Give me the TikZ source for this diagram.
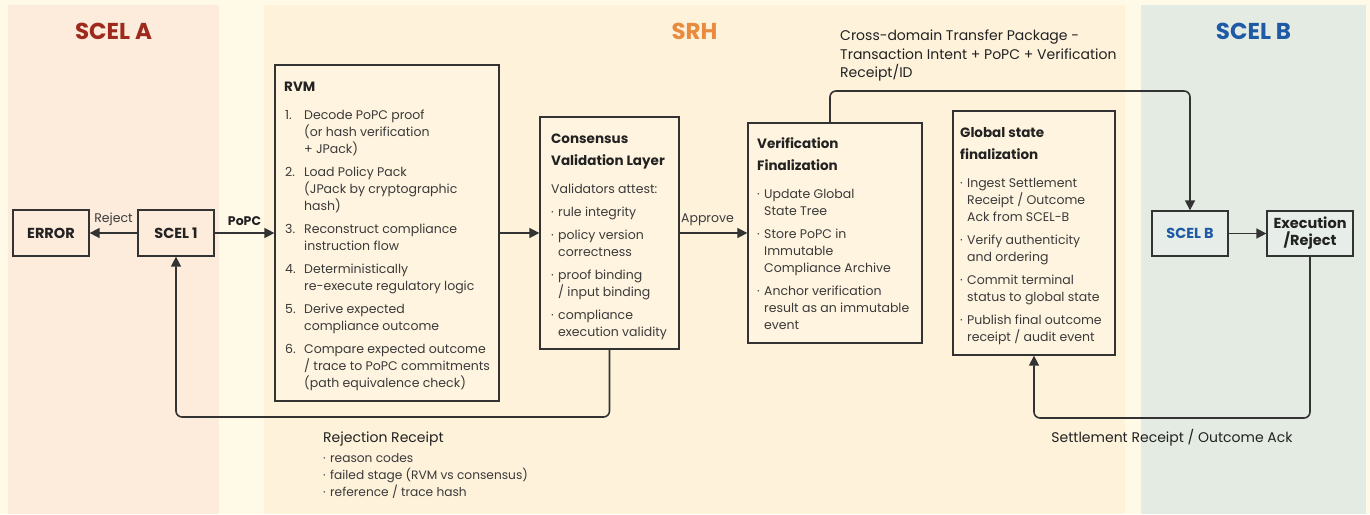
\documentclass[tikz,border=0pt]{standalone}
\usepackage{fontspec}
\setmainfont{Poppins}
\usetikzlibrary{arrows.meta, positioning, calc}
\definecolor{pagecream}{HTML}{FFF9E8}
\definecolor{scelapanel}{HTML}{FDEBDC}
\definecolor{srhpanel}{HTML}{FEF2DB}
\definecolor{scelbpanel}{HTML}{E4EBE3}
\definecolor{srhbox}{HTML}{FFF4DF}
\definecolor{scelbbox}{HTML}{E7EEE9}
\definecolor{scelared}{HTML}{9E2A1E}
\definecolor{srhorange}{HTML}{E98B3F}
\definecolor{scelbblue}{HTML}{1E5AA6}
\definecolor{linegray}{HTML}{333333}
\definecolor{bodygray}{HTML}{3A3A3A}
\definecolor{headgray}{HTML}{222222}

\begin{document}
\begin{tikzpicture}[x=1pt, y=-1pt,
    stage/.style={draw=linegray, line width=1.3pt, fill=srhbox, inner sep=0pt},
    flow/.style={draw=linegray, line width=1.6pt,
      -{Triangle[length=10pt, width=10pt]}, rounded corners=6pt},
    bodytext/.style={font=\fontsize{12.5}{17}\selectfont, text=bodygray,
      anchor=base west, inner sep=0pt},
    headtext/.style={font=\fontsize{13.5}{22}\selectfont\bfseries, text=headgray,
      anchor=base west, inner sep=0pt, align=left},
    domaintitle/.style={font=\fontsize{23}{26}\selectfont\bfseries},
    boxlabel/.style={font=\fontsize{14.5}{17}\selectfont\bfseries, text=headgray,
      align=center},
    edgelabel/.style={font=\fontsize{12.5}{15}\selectfont, text=bodygray, above=3pt}
  ]
    \useasboundingbox (0,0) rectangle (1370,514);
    % Domain panels
    \fill[pagecream] (0,0) rectangle (1370,514);
    \fill[scelapanel] (8,5) rectangle (219,514);
    \fill[srhpanel] (264,5) rectangle (1125,514);
    \fill[scelbpanel] (1141,5) rectangle (1366,514);
    \node[domaintitle, text=scelared] (titleA) at (113.5,31) {SCEL A};
    \node[domaintitle, text=srhorange] (titleSRH) at (694.5,31) {SRH};
    \node[domaintitle, text=scelbblue] (titleB) at (1253.5,31) {SCEL B};

    % SCEL A boxes
    \node[stage, fill=scelapanel, minimum width=76pt, minimum height=46pt, boxlabel]
      (error) at (51,233) {ERROR};
    \node[stage, fill=scelapanel, minimum width=76pt, minimum height=46pt, boxlabel]
      (scel1) at (176,233) {SCEL 1};

    % RVM
    \node[stage, minimum width=224pt, minimum height=336pt] (rvm) at (387,233) {};
    \node[headtext] (rvmTitle) at (284,91.5) {RVM};
    \node[bodytext] (rvmSteps) at (285,119.5) {%
      \begin{tabular}[t]{@{}p{19pt}@{}l@{}}
        1. & Decode PoPC proof\\
           & (or hash verification\\
           & + JPack)\\[6pt]
        2. & Load Policy Pack\\
           & (JPack by cryptographic\\
           & hash)\\[6pt]
        3. & Reconstruct compliance\\
           & instruction flow\\[6pt]
        4. & Deterministically\\
           & re-execute regulatory logic\\[6pt]
        5. & Derive expected\\
           & compliance outcome\\[6pt]
        6. & Compare expected outcome\\
           & / trace to PoPC commitments\\
           & (path equivalence check)
      \end{tabular}};

    % Consensus Validation Layer
    \node[stage, minimum width=139pt, minimum height=232pt] (cvl) at (609.5,233) {};
    \node[headtext] (cvlTitle) at (551,165.5) {Consensus\\Validation Layer};
    \node[bodytext] (cvlItems) at (551,193.5) {%
      \begin{tabular}[t]{@{}p{7pt}@{}l@{}}
        \multicolumn{2}{@{}l@{}}{Validators attest:}\\[6pt]
        · & rule integrity\\[6pt]
        · & policy version\\
          & correctness\\[6pt]
        · & proof binding\\
          & / input binding\\[6pt]
        · & compliance\\
          & execution validity
      \end{tabular}};

    % Verification Finalization
    \node[stage, minimum width=174pt, minimum height=220pt] (verif) at (835,233) {};
    \node[headtext] (verifTitle) at (757,170.5) {Verification\\Finalization};
    \node[bodytext] (verifItems) at (757,198.5) {%
      \begin{tabular}[t]{@{}p{7pt}@{}l@{}}
        · & Update Global\\
          & State Tree\\[6pt]
        · & Store PoPC in\\
          & Immutable\\
          & Compliance Archive\\[6pt]
        · & Anchor verification\\
          & result as an immutable\\
          & event
      \end{tabular}};

    % Global state finalization
    \node[stage, minimum width=162pt, minimum height=244pt] (gsf) at (1034,233) {};
    \node[headtext] (gsfTitle) at (960,159.5) {Global state\\finalization};
    \node[bodytext] (gsfItems) at (960,187.5) {%
      \begin{tabular}[t]{@{}p{7pt}@{}l@{}}
        · & Ingest Settlement\\
          & Receipt / Outcome\\
          & Ack from SCEL-B\\[6pt]
        · & Verify authenticity\\
          & and ordering\\[6pt]
        · & Commit terminal\\
          & status to global state\\[6pt]
        · & Publish final outcome\\
          & receipt / audit event
      \end{tabular}};

    % SCEL B boxes
    \node[stage, fill=scelbbox, minimum width=76pt, minimum height=45pt, boxlabel,
      text=scelbblue] (scelb) at (1190,233.5) {SCEL B};
    \node[stage, fill=scelbbox, minimum width=86pt, minimum height=45pt, boxlabel]
      (exec) at (1310,233.5) {Execution\\/Reject};

    % Main flow
    \draw[flow] (scel1) -- node[edgelabel] {Reject} (error);
    \draw[flow] (scel1) -- node[edgelabel, font=\fontsize{12.5}{15}\selectfont\bfseries,
      text=headgray] {PoPC} (rvm);
    \draw[flow] (rvm) -- (cvl);
    \draw[flow] (cvl) -- node[edgelabel, xshift=-6pt] {Approve} (verif);
    \draw[flow] (scelb) -- (exec);

    % Cross-domain transfer
    \coordinate (xferTop) at (1000,91);
    \draw[flow] ([xshift=-5pt]verif.north) |- (xferTop) -| (scelb.north);
    \node[bodytext, font=\fontsize{14}{18.3}\selectfont, text=headgray, align=left]
      (xferLabel) at (840,77.5)
      {Cross-domain Transfer Package -\\Transaction Intent + PoPC + Verification\\Receipt/ID};

    % Rejection receipt back to SCEL 1
    \coordinate (rejLow) at (400,417);
    \draw[flow] (cvl.south) |- (rejLow) -| (scel1.south);
    \node[bodytext, font=\fontsize{14}{17}\selectfont, text=headgray]
      (rejLabel) at (323,442) {Rejection Receipt};
    \node[bodytext, font=\fontsize{12.2}{17}\selectfont] (rejItems) at (323,462.5) {%
      \begin{tabular}[t]{@{}p{7pt}@{}l@{}}
        · & reason codes\\
        · & failed stage (RVM vs consensus)\\
        · & reference / trace hash
      \end{tabular}};

    % Settlement receipt back to global state
    \coordinate (setLow) at (1170,418);
    \draw[flow] (exec.south) |- (setLow) -| (gsf.south);
    \node[font=\fontsize{14}{17}\selectfont, text=headgray, anchor=base, inner sep=0pt]
      (setLabel) at (1172,442) {Settlement Receipt / Outcome Ack};
  \end{tikzpicture}
\end{document}
